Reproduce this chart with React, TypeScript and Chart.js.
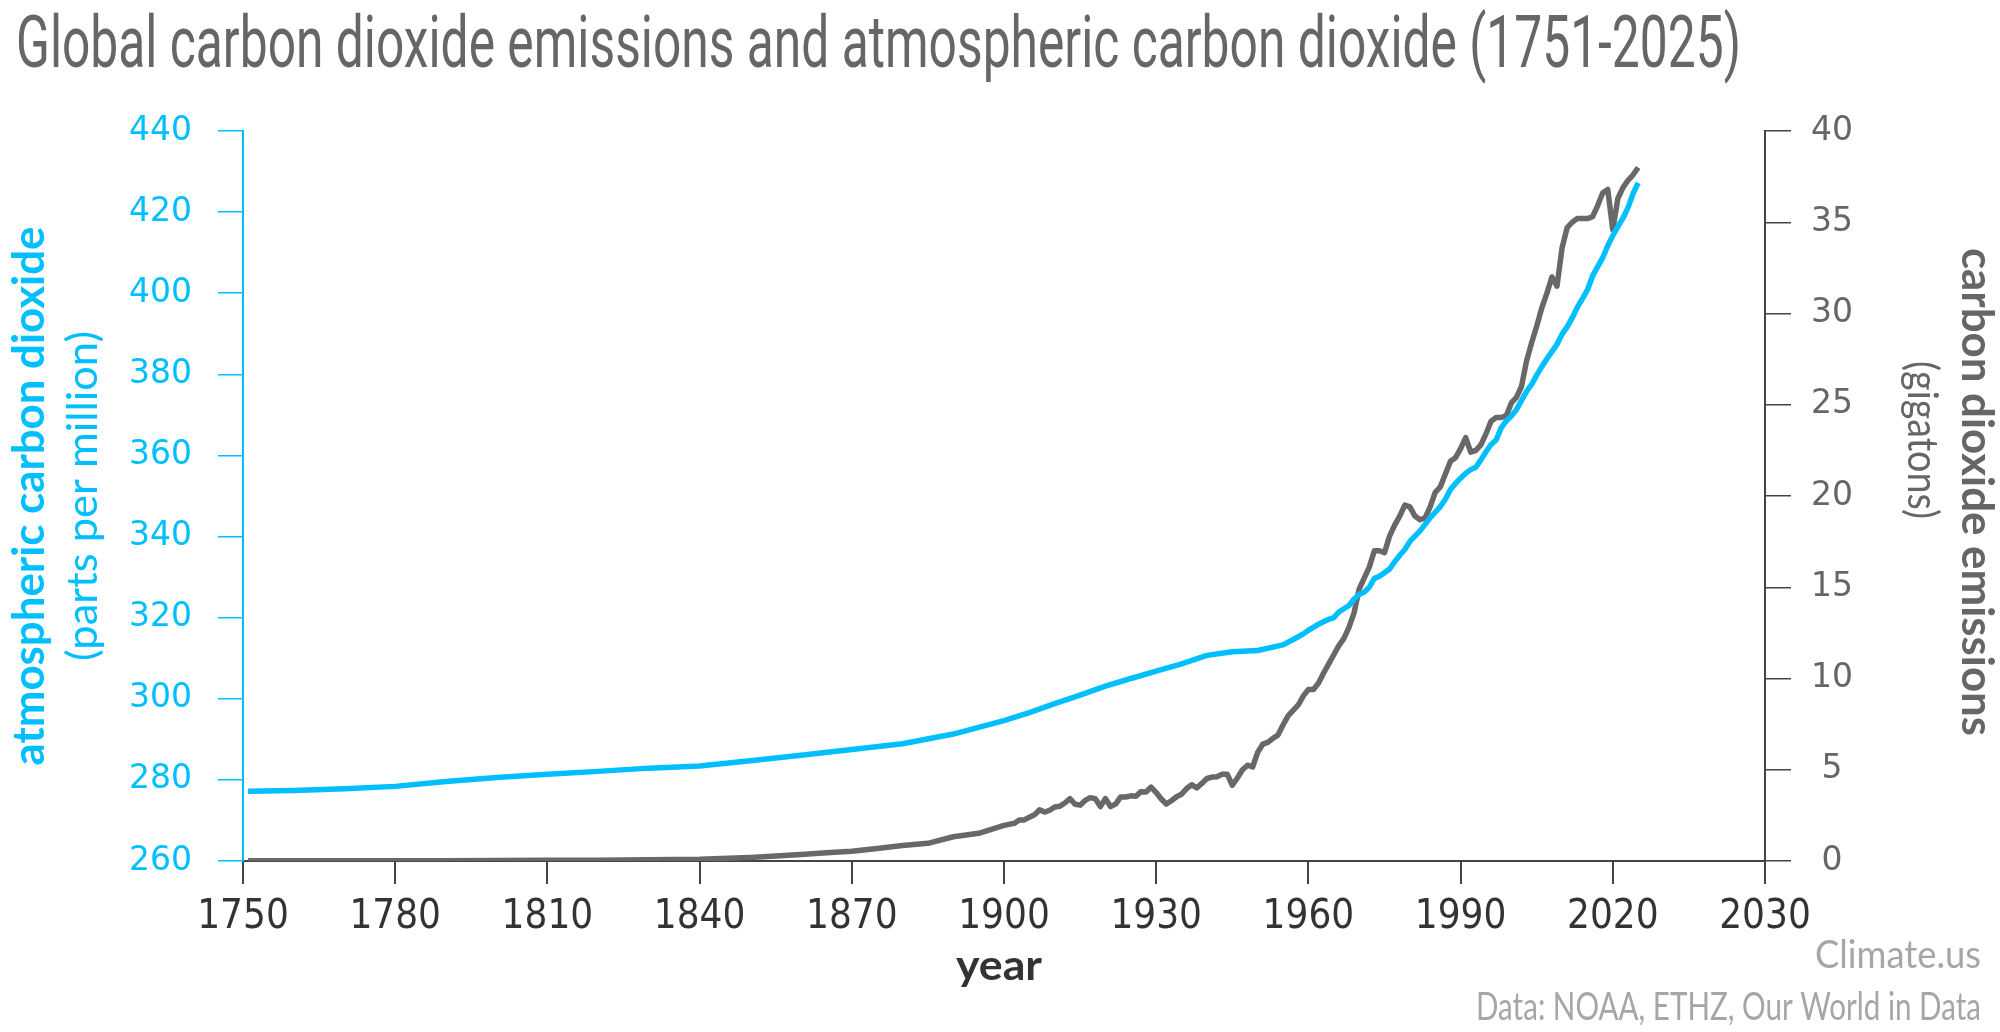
import React, { useEffect, useRef } from 'react';
import { Chart, registerables } from 'chart.js';

Chart.register(...registerables);

// ---- text ----
const TITLE = 'Global carbon dioxide emissions and atmospheric carbon dioxide (1751-2025)';
const LEFT_TITLE = 'atmospheric carbon dioxide';
const LEFT_SUBTITLE = '(parts per million)';
const RIGHT_TITLE = 'carbon dioxide emissions';
const RIGHT_SUBTITLE = '(gigatons)';
const X_TITLE = 'year';
const CREDIT = 'Climate.us';
const SOURCE = 'Data: NOAA, ETHZ, Our World in Data';

// ---- x axis ticks ----
const xTickValues = [1750, 1780, 1810, 1840, 1870, 1900, 1930, 1960, 1990, 2020, 2050];
const xTickLabels = ['1750', '1780', '1810', '1840', '1870', '1900', '1930', '1960', '1990', '2020', '2030'];

// ---- atmospheric CO2 (ppm) ----
const ppmYears = [
  1751, 1760, 1770, 1780, 1790, 1800, 1810, 1820, 1830, 1840, 1850, 1860, 1870, 1880, 1890,
  1900, 1905, 1910, 1915, 1920, 1925, 1930, 1935, 1940, 1945, 1950, 1955, 1958, 1959,
  1960, 1961, 1962, 1963, 1964, 1965, 1966, 1967, 1968, 1969,
  1970, 1971, 1972, 1973, 1974, 1975, 1976, 1977, 1978, 1979,
  1980, 1981, 1982, 1983, 1984, 1985, 1986, 1987, 1988, 1989,
  1990, 1991, 1992, 1993, 1994, 1995, 1996, 1997, 1998, 1999,
  2000, 2001, 2002, 2003, 2004, 2005, 2006, 2007, 2008, 2009,
  2010, 2011, 2012, 2013, 2014, 2015, 2016, 2017, 2018, 2019,
  2020, 2021, 2022, 2023, 2024, 2025,
];
const ppmValues = [
  277.2, 277.4, 277.8, 278.4, 279.6, 280.6, 281.4, 282.1, 282.9, 283.4, 284.7, 286.1, 287.5, 288.9, 291.3,
  294.6, 296.6, 298.8, 300.9, 303.1, 305.0, 306.8, 308.6, 310.7, 311.6, 311.9, 313.3, 315.3, 316.0,
  316.9, 317.6, 318.4, 319.0, 319.6, 320.0, 321.4, 322.2, 323.0, 324.6,
  325.7, 326.3, 327.5, 329.7, 330.2, 331.1, 332.0, 333.8, 335.4, 336.8,
  338.8, 340.1, 341.4, 343.0, 344.6, 346.0, 347.4, 349.2, 351.6, 353.1,
  354.4, 355.6, 356.5, 357.1, 358.9, 360.9, 362.7, 363.8, 366.8, 368.5,
  369.7, 371.3, 373.5, 375.8, 377.5, 379.8, 381.9, 383.8, 385.6, 387.4,
  389.9, 391.7, 393.9, 396.5, 398.6, 400.8, 404.2, 406.5, 408.7, 411.7,
  414.2, 416.4, 418.5, 421.1, 424.6, 427.2,
];

// ---- CO2 emissions (gigatons) ----
const emissionYears = [
  1751, 1760, 1770, 1780, 1790, 1800, 1810, 1820, 1830, 1840, 1850, 1855, 1860, 1865, 1870,
  1875, 1880, 1885, 1890, 1895, 1900,
  1901, 1902, 1903, 1904, 1905, 1906, 1907, 1908, 1909, 1910,
  1911, 1912, 1913, 1914, 1915, 1916, 1917, 1918, 1919, 1920,
  1921, 1922, 1923, 1924, 1925, 1926, 1927, 1928, 1929, 1930,
  1931, 1932, 1933, 1934, 1935, 1936, 1937, 1938, 1939, 1940,
  1941, 1942, 1943, 1944, 1945, 1946, 1947, 1948, 1949, 1950,
  1951, 1952, 1953, 1954, 1955, 1956, 1957, 1958, 1959, 1960,
  1961, 1962, 1963, 1964, 1965, 1966, 1967, 1968, 1969, 1970,
  1971, 1972, 1973, 1974, 1975, 1976, 1977, 1978, 1979, 1980,
  1981, 1982, 1983, 1984, 1985, 1986, 1987, 1988, 1989, 1990,
  1991, 1992, 1993, 1994, 1995, 1996, 1997, 1998, 1999, 2000,
  2001, 2002, 2003, 2004, 2005, 2006, 2007, 2008, 2009, 2010,
  2011, 2012, 2013, 2014, 2015, 2016, 2017, 2018, 2019, 2020,
  2021, 2022, 2023, 2024, 2025,
];
const emissionValues = [
  0.009, 0.010, 0.011, 0.013, 0.018, 0.028, 0.035, 0.043, 0.067, 0.097, 0.197, 0.27, 0.36, 0.45, 0.53,
  0.69, 0.85, 0.97, 1.33, 1.52, 1.95,
  2.01, 2.06, 2.25, 2.25, 2.40, 2.53, 2.81, 2.68, 2.78, 2.96,
  3.00, 3.18, 3.42, 3.11, 3.06, 3.32, 3.47, 3.41, 2.98, 3.42,
  2.98, 3.12, 3.51, 3.51, 3.57, 3.55, 3.80, 3.78, 4.05, 3.75,
  3.40, 3.12, 3.30, 3.52, 3.66, 3.97, 4.18, 4.01, 4.25, 4.52,
  4.60, 4.62, 4.76, 4.76, 4.15, 4.55, 5.00, 5.25, 5.15, 5.95,
  6.40, 6.50, 6.72, 6.90, 7.45, 7.95, 8.25, 8.55, 9.05, 9.40,
  9.40, 9.75, 10.30, 10.80, 11.30, 11.80, 12.20, 12.80, 13.60, 14.90,
  15.50, 16.10, 17.00, 17.00, 16.90, 17.80, 18.40, 18.90, 19.50, 19.40,
  18.90, 18.70, 18.80, 19.40, 20.20, 20.50, 21.20, 21.90, 22.10, 22.60,
  23.20, 22.40, 22.50, 22.80, 23.40, 24.10, 24.30, 24.30, 24.40, 25.10,
  25.40, 26.00, 27.40, 28.40, 29.30, 30.30, 31.10, 32.00, 31.50, 33.60,
  34.70, 35.00, 35.20, 35.20, 35.20, 35.30, 35.90, 36.60, 36.80, 34.60,
  36.30, 36.90, 37.30, 37.60, 38.00,
];

const BLUE = '#00bfff';
const LINE_GRAY = '#686868';
const TEXT_GRAY = '#666666';
const DARK = '#333333';
const LIGHT_GRAY = '#a6a6a6';

type FittedText = {
  text: string;
  x: number;
  y: number;
  font: string;
  color: string;
  width: number;
  align: CanvasTextAlign;
  angle: number;
};

// Draws a single line of text squeezed or stretched horizontally to a set length.
function drawFitted(ctx: CanvasRenderingContext2D, t: FittedText) {
  ctx.save();
  ctx.translate(t.x, t.y);
  ctx.rotate(t.angle);
  ctx.font = t.font;
  const natural = ctx.measureText(t.text).width || 1;
  ctx.scale(t.width / natural, 1);
  ctx.textAlign = t.align;
  ctx.textBaseline = 'alphabetic';
  ctx.fillStyle = t.color;
  ctx.fillText(t.text, 0, 0);
  ctx.restore();
}

const annotationPlugin = {
  id: 'chartText',
  afterDraw(chart: Chart) {
    const ctx = chart.ctx;
    const area = chart.chartArea;
    const midY = (area.top + area.bottom) / 2;
    const midX = (area.left + area.right) / 2;
    const texts: FittedText[] = [
      { text: TITLE, x: 16, y: 67, font: '400 72px Roboto', color: TEXT_GRAY, width: 1725, align: 'left', angle: 0 },
      { text: LEFT_TITLE, x: 44, y: midY, font: 'bold 44px Lato', color: BLUE, width: 539, align: 'center', angle: -Math.PI / 2 },
      { text: LEFT_SUBTITLE, x: 97, y: midY, font: '42px Lato', color: BLUE, width: 330, align: 'center', angle: -Math.PI / 2 },
      { text: RIGHT_TITLE, x: 1962, y: midY - 4, font: 'bold 44px Lato', color: TEXT_GRAY, width: 488, align: 'center', angle: Math.PI / 2 },
      { text: RIGHT_SUBTITLE, x: 1908, y: midY - 56, font: '42px Lato', color: TEXT_GRAY, width: 158, align: 'center', angle: Math.PI / 2 },
      { text: X_TITLE, x: midX - 5, y: 980, font: 'bold 42px Lato', color: DARK, width: 86, align: 'center', angle: 0 },
      { text: CREDIT, x: 1981, y: 968, font: '39px Lato', color: LIGHT_GRAY, width: 166, align: 'right', angle: 0 },
      { text: SOURCE, x: 1981, y: 1020, font: '39px Lato', color: LIGHT_GRAY, width: 505, align: 'right', angle: 0 },
    ];
    texts.forEach((t) => drawFitted(ctx, t));
  },
};

export default function App() {
  const canvasRef = useRef<HTMLCanvasElement>(null);

  useEffect(() => {
    const canvas = canvasRef.current;
    if (!canvas) return;

    const chart = new Chart(canvas, {
      type: 'line',
      data: {
        datasets: [
          {
            label: LEFT_TITLE,
            data: ppmYears.map((yr, i) => ({ x: yr, y: ppmValues[i] })),
            yAxisID: 'ppm',
            borderColor: BLUE,
            borderWidth: 5.5,
            pointRadius: 0,
            tension: 0,
            borderJoinStyle: 'round',
          },
          {
            label: RIGHT_TITLE,
            data: emissionYears.map((yr, i) => ({ x: yr, y: emissionValues[i] })),
            yAxisID: 'gt',
            borderColor: LINE_GRAY,
            borderWidth: 5.5,
            pointRadius: 0,
            tension: 0,
            borderJoinStyle: 'round',
          },
        ],
      },
      options: {
        responsive: false,
        animation: false,
        devicePixelRatio: 1,
        layout: { padding: { top: 131, left: 0, right: 0, bottom: 0 } },
        plugins: {
          legend: { display: false },
          tooltip: { enabled: false },
          title: { display: false },
        },
        scales: {
          x: {
            type: 'linear',
            position: 'bottom',
            min: 1750,
            max: 2050,
            afterBuildTicks: (scale: any) => {
              scale.ticks = xTickValues.map((v) => ({ value: v }));
            },
            afterFit: (scale: any) => {
              scale.height = 171;
            },
            ticks: {
              autoSkip: false,
              maxRotation: 0,
              padding: 10,
              color: DARK,
              font: { family: "'DejaVu Sans Condensed', 'DejaVu Sans', sans-serif", size: 40 },
              callback: (_v: any, i: number) => xTickLabels[i],
            },
            grid: { drawOnChartArea: false, drawTicks: true, tickLength: 23, color: '#444444', lineWidth: 2 },
            border: { color: '#444444', width: 2 },
          },
          ppm: {
            type: 'linear',
            position: 'left',
            min: 260,
            max: 440,
            afterFit: (scale: any) => {
              scale.width = 243;
            },
            ticks: {
              stepSize: 20,
              padding: 26,
              color: BLUE,
              font: { family: "'DejaVu Sans', sans-serif", size: 33 },
            },
            grid: { drawOnChartArea: false, drawTicks: true, tickLength: 25, color: BLUE, lineWidth: 1.5 },
            border: { color: BLUE, width: 2 },
          },
          gt: {
            type: 'linear',
            position: 'right',
            min: 0,
            max: 40,
            afterFit: (scale: any) => {
              scale.width = 235;
            },
            ticks: {
              stepSize: 5,
              padding: 20,
              crossAlign: 'center',
              color: TEXT_GRAY,
              font: { family: "'DejaVu Sans', sans-serif", size: 33 },
            },
            grid: { drawOnChartArea: false, drawTicks: true, tickLength: 26, color: '#444444', lineWidth: 1.5 },
            border: { color: '#444444', width: 2 },
          },
        },
      },
      plugins: [annotationPlugin],
    });

    return () => chart.destroy();
  }, []);

  return (
    <div style={{ position: 'absolute', left: 0, top: 0, width: 2000, height: 1032, background: '#ffffff' }}>
      <canvas ref={canvasRef} width={2000} height={1032} style={{ display: 'block' }} />
    </div>
  );
}
